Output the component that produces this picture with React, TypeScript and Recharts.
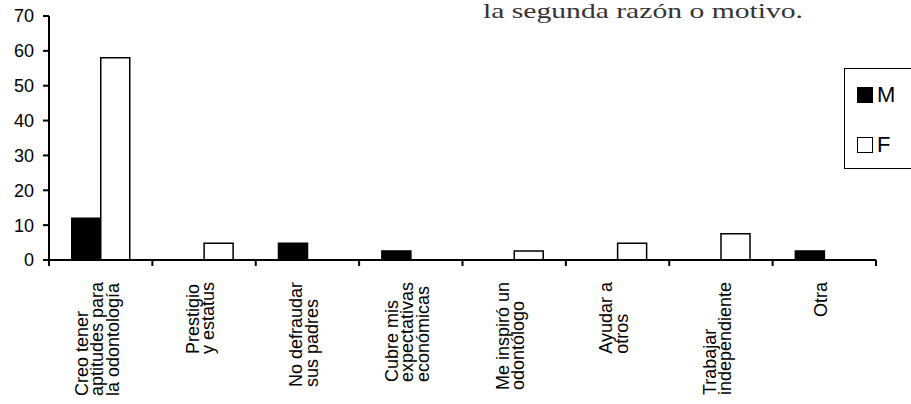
import React from "react";
import { BarChart, Bar, XAxis, YAxis } from "recharts";

const categories = [
  "Creo tener\naptitudes para\nla odontología",
  "Prestigio\ny estatus",
  "No defraudar\nsus padres",
  "Cubre mis\nexpectativas\neconómicas",
  "Me inspiró un\nodontólogo",
  "Ayudar a\notros",
  "Trabajar\nindependiente",
  "Otra",
];
const seriesNames = ["M", "F"];
const seriesColors = ["#000", "#fff"];
const seriesM = [12, 0, 4.8, 2.6, 0, 0, 0, 2.6];
const seriesF = [58, 4.8, 0, 0, 2.6, 4.8, 7.5, 0];
const yTicks = [0, 10, 20, 30, 40, 50, 60, 70];
const titleText = "la segunda razón o motivo.";

const data = categories.map((name, i) => ({ name, M: seriesM[i], F: seriesF[i] }));

const FONT = "'Liberation Sans', Arial, Helvetica, sans-serif";
const FS = 18;

let ctx: CanvasRenderingContext2D | null = null;
function measure(s: string): number {
  if (!ctx) {
    const c = document.createElement("canvas");
    ctx = c.getContext("2d");
  }
  if (!ctx) return s.length * FS * 0.5;
  ctx.font = `${FS}px 'Liberation Sans'`;
  return ctx.measureText(s).width;
}

function CategoryTick(props: any) {
  const { x, y, payload, index, width, visibleTicksCount } = props;
  const count = visibleTicksCount || categories.length;
  const band = typeof width === "number" && width > 0 ? width / count : 103.4;
  const lines = String(payload.value).split("\n");
  const L = 15.5;
  const W = Math.max(...lines.map(measure));
  const top = y + 22;
  const b0 = x - 3 - ((lines.length - 1) * L - 11) / 2;
  const rx = x + band / 2;
  const lx = x - band / 2;
  return (
    <g>
      {index === 0 && <line x1={lx} x2={lx} y1={y} y2={y + 6} stroke="#000" strokeWidth={2} />}
      <line x1={rx} x2={rx} y1={y} y2={y + 6} stroke="#000" strokeWidth={2} />
      <text
        transform={`translate(${b0}, ${top + W}) rotate(-90)`}
        fontSize={FS}
        fontFamily={FONT}
        fill="#000"
        textAnchor="start"
      >
        {lines.map((l, i) => (
          <tspan key={i} x={0} dy={i === 0 ? 0 : L}>
            {l}
          </tspan>
        ))}
      </text>
    </g>
  );
}

function LegendBox() {
  return (
    <div
      style={{
        position: "absolute",
        left: 844,
        top: 68,
        border: "1.5px solid #000",
        width: 90,
        height: 101,
        boxSizing: "border-box",
        paddingLeft: 12,
        paddingTop: 16,
        fontFamily: FONT,
        background: "#fff",
      }}
    >
      {seriesNames.map((name, i) => (
        <div
          key={name}
          style={{ display: "flex", alignItems: "center", height: 20, marginBottom: i === 0 ? 30 : 0 }}
        >
          <span
            style={{
              display: "inline-block",
              width: 16,
              height: 16,
              boxSizing: "border-box",
              border: "1.5px solid #000",
              background: seriesColors[i],
              marginRight: 4,
            }}
          />
          <span style={{ color: "#000", fontSize: 22, fontFamily: FONT, lineHeight: "20px" }}>{name}</span>
        </div>
      ))}
    </div>
  );
}

export default function App() {
  return (
    <div
      style={{ position: "absolute", left: 0, top: 0, width: 911, height: 404, overflow: "hidden", background: "#fff" }}
    >
      <BarChart
        width={911}
        height={404}
        data={data}
        margin={{ top: 16, right: 35, bottom: 0, left: 0 }}
        barCategoryGap="22%"
        barGap={0}
      >
        <XAxis
          dataKey="name"
          height={144}
          interval={0}
          tick={<CategoryTick />}
          tickLine={false}
          axisLine={{ stroke: "#000", strokeWidth: 2 }}
          tickSize={0}
          tickMargin={0}
        />
        <YAxis
          width={49}
          domain={[0, 70]}
          ticks={yTicks}
          interval={0}
          tickSize={6}
          tickMargin={9}
          axisLine={{ stroke: "#000", strokeWidth: 2 }}
          tickLine={{ stroke: "#000", strokeWidth: 2 }}
          tick={{ fontSize: FS, fontFamily: FONT, fill: "#000" }}
        />
        <Bar dataKey="M" fill={seriesColors[0]} stroke="#000" strokeWidth={1.5} isAnimationActive={false} />
        <Bar dataKey="F" fill={seriesColors[1]} stroke="#000" strokeWidth={1.5} isAnimationActive={false} />
      </BarChart>
      <LegendBox />
      <svg width={911} height={404} style={{ position: "absolute", left: 0, top: 0, pointerEvents: "none" }}>
        <text
          x={483}
          y={18}
          fontFamily="'Liberation Serif', 'Times New Roman', serif"
          fontSize={21}
          fill="#333"
          textLength={320}
          lengthAdjust="spacingAndGlyphs"
        >
          {titleText}
        </text>
      </svg>
    </div>
  );
}
